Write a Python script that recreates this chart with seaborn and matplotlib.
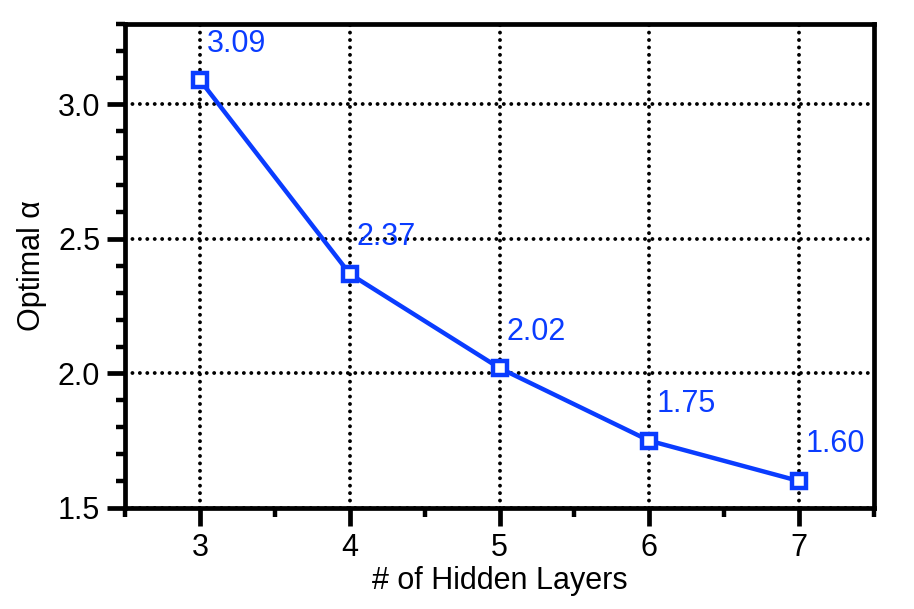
import numpy as np
import pandas as pd
import matplotlib
matplotlib.use("Agg")
import matplotlib.pyplot as plt
import seaborn as sns
from matplotlib.ticker import MultipleLocator

# data
hidden_layers = [3, 4, 5, 6, 7]
optimal_alpha = [3.09, 2.37, 2.02, 1.75, 1.60]
alpha_labels = ["3.09", "2.37", "2.02", "1.75", "1.60"]

blue = '#0a3cff'

sns.set_theme(style="white")
plt.rcParams['font.family'] = ['Liberation Sans', 'DejaVu Sans']

df = pd.DataFrame({'layers': hidden_layers, 'alpha': optimal_alpha})

fig, ax = plt.subplots(figsize=(9.14, 6.09), dpi=100)
fig.subplots_adjust(left=0.137, right=0.956, top=0.961, bottom=0.166)

sns.lineplot(data=df, x='layers', y='alpha', ax=ax, color=blue, linewidth=3.2,
             marker='s', markersize=10, markerfacecolor='white',
             markeredgecolor=blue, markeredgewidth=3.2, zorder=3)

for x, y, lab in zip(hidden_layers, optimal_alpha, alpha_labels):
    ax.annotate(lab, xy=(x, y), xytext=(5, 15.5), textcoords='offset points',
                ha='left', va='bottom', color=blue, fontsize=22, zorder=4)

ax.set_xlim(2.5, 7.5)
ax.set_ylim(1.5, 3.3)
ax.xaxis.set_major_locator(MultipleLocator(1))
ax.xaxis.set_minor_locator(MultipleLocator(0.5))
ax.yaxis.set_major_locator(MultipleLocator(0.5))
ax.yaxis.set_minor_locator(MultipleLocator(0.1))
ax.yaxis.set_major_formatter(matplotlib.ticker.FormatStrFormatter('%.1f'))

ax.grid(True, which='major', color='black', linestyle=(0, (0.01, 1.9)),
        linewidth=2.8, dash_capstyle='round')
ax.set_axisbelow(True)

for sp in ax.spines.values():
    sp.set_color('black')
    sp.set_linewidth(3.4)

ax.tick_params(which='major', direction='out', length=13, width=3.4,
               labelsize=22, color='black', labelcolor='black', pad=5,
               left=True, bottom=True)
ax.tick_params(which='minor', direction='out', length=6.5, width=3.2,
               color='black', left=True, bottom=True)

ax.set_xlabel("# of Hidden Layers", fontsize=22, color='black', labelpad=2)
ax.set_ylabel("Optimal α", fontsize=22, color='black', labelpad=8)

plt.savefig("out.png", dpi=100)
